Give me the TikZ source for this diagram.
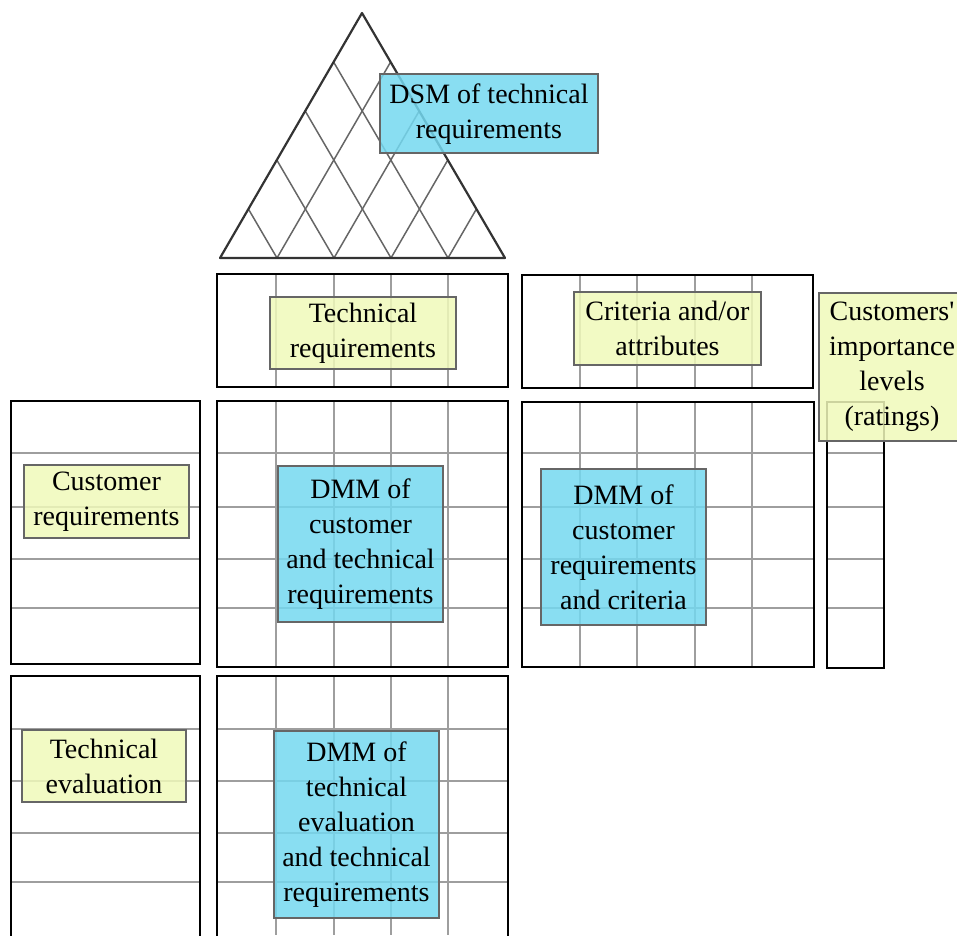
\documentclass[tikz,border=0pt]{standalone}
\usepackage{fontspec}
\setmainfont{Liberation Serif}
\usetikzlibrary{fit}
\definecolor{yellowfill}{RGB}{240,249,186}
\definecolor{cyanfill}{RGB}{116,216,240}
\begin{document}
\begin{tikzpicture}[x=1pt,y=-1pt,
  frame/.style={draw=black, line width=2pt, inner sep=0pt},
  gridline/.style={draw=black!38, line width=1.7pt},
  trigrid/.style={draw=black!60, line width=1.5pt},
  label/.style={draw=black!60, line width=1.4pt, fill opacity=0.85, text opacity=1,
    align=center, inner sep=0pt, font=\fontsize{28}{35}\selectfont},
  yel/.style={label, fill=yellowfill},
  cya/.style={label, fill=cyanfill},
]
\clip (0,0) rectangle (957,935);

% ---- roof: triangular DSM ----
\coordinate (bl) at (220,258);
\coordinate (apex) at (362,13);
\coordinate (br) at (505,258);
\begin{scope}
  \clip (bl) -- (apex) -- (br) -- cycle;
  \foreach \i in {1,...,4} {
    \draw[trigrid] (220+57*\i,258) -- ++(284,-490);
    \draw[trigrid] (220+57*\i,258) -- ++(-286,-490);
  }
\end{scope}
\draw[line width=2.2pt, draw=black!80, line join=round] (bl) -- (apex) -- (br) -- cycle;

% ---- grid lines inside the rooms ----
\foreach \x in {276,334,391,448} {
  \draw[gridline] (\x,274) -- (\x,387);
  \draw[gridline] (\x,401) -- (\x,667);
  \draw[gridline] (\x,676) -- (\x,935);
}
\foreach \x in {580,637,695,752} {
  \draw[gridline] (\x,275) -- (\x,388);
  \draw[gridline] (\x,402) -- (\x,667);
}
\foreach \y in {453,507,559,608} {
  \draw[gridline] (11,\y) -- (200,\y);
  \draw[gridline] (217,\y) -- (508,\y);
  \draw[gridline] (522,\y) -- (814,\y);
  \draw[gridline] (827,\y) -- (884,\y);
}
\foreach \y in {729,781,833,882} {
  \draw[gridline] (11,\y) -- (200,\y);
  \draw[gridline] (217,\y) -- (508,\y);
}

% ---- room frames ----
\node[frame, fit={(217,274) (508,387)}] (ftech) {};
\node[frame, fit={(522,275) (813,388)}] (fcrit) {};
\node[frame, fit={(11,401) (200,664)}] (fcust) {};
\node[frame, fit={(217,401) (508,667)}] (fdmm1) {};
\node[frame, fit={(522,402) (814,667)}] (fdmm2) {};
\node[frame, fit={(827,402) (884,668)}] (fimp) {};
\node[frame, fit={(11,676) (200,950)}] (feval) {};
\node[frame, fit={(217,676) (508,950)}] (fdmm3) {};

% ---- labels ----
\node[cya, minimum width=218pt, minimum height=79pt] (dsm) at (489,113.5)
  {\raisebox{-3pt}{\begin{tabular}{@{}c@{}}DSM of technical\\requirements\end{tabular}}};
\node[yel, minimum width=186pt, minimum height=72pt] (tech) at (363,333)
  {Technical\\requirements};
\node[yel, minimum width=187pt, minimum height=73pt] (crit) at (667.5,328.5)
  {Criteria and/or\\attributes};
\node[yel, minimum width=146pt, minimum height=148pt] (imp) at (892,367)
  {Customers\textquotesingle\\importance\\levels\\(ratings)};
\node[yel, minimum width=165pt, minimum height=73pt] (cust) at (106.5,501.5)
  {Customer\\requirements};
\node[yel, minimum width=164pt, minimum height=72pt] (eval) at (104,766)
  {Technical\\evaluation};
\node[cya, minimum width=165pt, minimum height=156pt] (dmm1) at (360.5,544)
  {DMM of\\customer\\and technical\\requirements};
\node[cya, minimum width=165pt, minimum height=156pt] (dmm2) at (623.5,547)
  {DMM of\\customer\\requirements\\and criteria};
\node[cya, minimum width=165pt, minimum height=187pt] (dmm3) at (356.5,824.5)
  {DMM of\\technical\\evaluation\\and technical\\requirements};
\end{tikzpicture}
\end{document}
